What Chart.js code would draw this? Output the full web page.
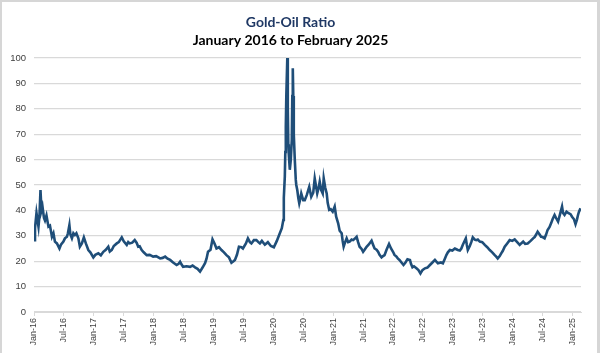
<!DOCTYPE html>
<html>
<head>
<meta charset="utf-8">
<script src="https://cdn.jsdelivr.net/npm/chart.js@4/dist/chart.umd.min.js"></script>
<style>
  html, body { margin: 0; padding: 0; background: #ffffff; }
  #wrap { position: relative; width: 600px; height: 353px; overflow: hidden; }
  #c { position: absolute; left: 0; top: 0; }
  #frame { position: absolute; left: 0; top: 0; width: 600px; height: 360px; box-sizing: border-box;
           border-top: 2px solid #d6d6d6; border-left: 2px solid #d6d6d6; border-right: 3px solid #d6d6d6; pointer-events: none; }
</style>
</head>
<body>
<div id="wrap">
  <canvas id="c" width="600" height="353"></canvas>
  <div id="frame"></div>
</div>
<script>
// Months elapsed since January 2016 (x position of each reading)
const months = [
  0, 0.2, 0.5, 0.9, 1.1, 1.3, 1.5, 1.7, 2.0, 2.2, 2.5, 2.9, 3.2, 3.6, 3.9, 4.2, 4.6, 5.1, 5.4, 5.9,
  6.2, 6.6, 6.8, 7.1, 7.3, 7.6, 7.9, 8.2, 8.5, 8.9, 9.2, 9.6, 10.0, 10.4, 10.9, 11.3, 11.9, 12.3, 12.9, 13.4,
  13.9, 14.4, 14.9, 15.2, 15.6, 16.0, 16.6, 17.0, 17.6, 18.0, 18.6, 18.9, 19.2, 19.7, 20.2, 20.6, 20.9, 21.2, 21.6, 22.0,
  22.6, 23.2, 23.9, 24.5, 25.3, 25.8, 26.3, 26.8, 27.3, 27.9, 28.6, 29.0, 29.3, 29.6, 29.9, 30.6, 31.3, 31.8, 32.3, 32.8,
  33.3, 33.8, 34.3, 34.6, 34.9, 35.4, 35.8, 36.2, 36.6, 37.1, 37.6, 38.1, 38.6, 39.1, 39.6, 40.0, 40.3, 40.7, 41.1, 41.6,
  41.9, 42.5, 42.9, 43.3, 43.6, 44.1, 44.6, 45.0, 45.3, 45.7, 46.3, 46.9, 47.5, 48.1, 48.7, 49.3, 49.7, 50.0, 50.1, 50.3,
  50.4, 50.5, 50.6, 50.8, 50.9, 51.0, 51.1, 51.3, 51.5, 51.7, 51.8, 51.9, 52.0, 52.1, 52.3, 52.5, 52.6, 52.8, 53.0, 53.2,
  53.4, 53.6, 54.0, 54.3, 54.7, 55.2, 55.6, 56.0, 56.3, 56.8, 57.1, 57.3, 57.6, 57.9, 58.1, 58.4, 58.7, 58.9, 59.2, 59.5,
  59.9, 60.3, 60.6, 61.0, 61.3, 61.7, 61.9, 62.1, 62.4, 62.7, 63.0, 63.3, 63.7, 64.0, 64.3, 64.7, 65.0, 65.3, 65.7, 66.0,
  66.3, 66.7, 67.1, 67.7, 68.0, 68.3, 68.7, 69.0, 69.3, 69.7, 70.0, 70.3, 70.7, 71.2, 71.6, 72.0, 72.3, 72.7, 73.0, 73.3,
  73.7, 74.1, 74.5, 74.9, 75.4, 75.6, 75.9, 76.2, 76.7, 77.1, 77.5, 77.9, 78.4, 78.9, 79.4, 79.9, 80.4, 80.7, 81.0, 81.6,
  82.0, 82.4, 82.7, 83.0, 83.4, 83.9, 84.4, 84.7, 85.0, 85.4, 85.7, 86.0, 86.6, 86.8, 87.0, 87.4, 87.7, 88.0, 88.4, 88.7,
  89.0, 89.4, 89.9, 90.4, 90.9, 91.4, 91.9, 92.4, 92.7, 93.0, 93.4, 93.7, 94.0, 94.4, 94.9, 95.4, 95.9, 96.4, 96.9, 97.4,
  97.7, 98.1, 98.5, 99.0, 99.6, 100.1, 100.4, 100.7, 101.0, 101.4, 101.7, 102.0, 102.4, 102.7, 103.0, 103.4, 103.7, 104.0, 104.4, 104.7,
  105.1, 105.5, 105.9, 106.1, 106.4, 106.8, 107.2, 107.6, 107.9, 108.3, 108.6, 108.9, 109.1, 109.3, 109.6
];
// Gold-oil ratio
const ratio = [
  28.3, 33, 39, 33.6, 38, 48, 40, 41.5, 37, 36, 38, 33.6, 34, 29.6, 31, 27.7, 27, 25, 26.5, 27.7,
  29, 29.6, 31, 34.2, 30.5, 29, 31, 30.3, 31, 29, 25.7, 27, 29.4, 27, 24.4, 23.5, 21.5, 22.5, 23.1, 22.3,
  23.7, 24.5, 25.7, 23.8, 24.4, 26, 27, 27.5, 29.4, 27.8, 26.4, 27.5, 27, 27.3, 28.3, 27.2, 25.7, 25.9, 24.4, 23.5,
  22.4, 22.5, 21.8, 22, 21.1, 21.3, 21.8, 21, 20.5, 19.5, 18.5, 19, 19.8, 18.7, 17.8, 18, 17.8, 18.3, 17.6, 17,
  15.9, 17.5, 19.2, 21, 23.7, 24.5, 28.6, 27, 25, 25.5, 24.4, 23.5, 22.4, 21.5, 19.4, 20, 20.5, 22.5, 25.7, 25.5,
  25, 27, 29, 27.5, 27, 28.3, 28.3, 27.5, 27, 28, 26.5, 27.5, 26, 25.5, 28, 31, 33, 36.2, 45, 53.3,
  63, 73, 85, 100, 80, 66, 62, 56, 60, 67.7, 85, 96, 85, 70, 60, 52, 50, 48, 45, 42.8,
  44.5, 46.7, 44, 44, 46, 49.3, 45.4, 47, 52.6, 46.7, 49, 51.3, 48, 46.7, 52.6, 49, 46.7, 43, 40.2, 40.5,
  39.5, 41.5, 37.5, 34.9, 32, 31, 28, 25.7, 27.5, 29, 27.5, 27.7, 28.5, 28.3, 28.8, 29.6, 27.5, 25.7, 24.8, 23.7,
  24.5, 25.7, 26.5, 28.1, 26.5, 25, 24.5, 23.7, 22.5, 21.5, 22, 22.4, 24.5, 26.8, 25, 23.7, 22.5, 21.8, 21, 20.5,
  19.5, 18.5, 19.5, 20.8, 20.5, 19, 17.6, 18, 17.2, 16.5, 15.2, 16.5, 17.2, 17.5, 18.5, 19.5, 20.5, 19.8, 19.2, 19.5,
  19.2, 21, 22.4, 23.5, 24.4, 24.2, 25, 24.7, 24.4, 24.2, 25, 26.5, 29, 26.5, 24.4, 26, 27.5, 29.4, 28.5, 28.3,
  28.5, 27.7, 27.5, 26.4, 25.5, 24.4, 23.5, 22.4, 21.8, 21.1, 22, 23.1, 24, 25.7, 27, 28.3, 28, 28.6, 27.5, 26.4,
  27, 27.7, 26.8, 27, 28, 29, 29.5, 30.5, 31.6, 30.5, 29.6, 29.5, 29, 30.5, 32.3, 33.5, 34.9, 36.5, 38.2, 37,
  35.6, 38.5, 41.5, 39, 38.2, 39.5, 38.9, 38.5, 37.5, 36.5, 34.6, 36.5, 38.2, 39.5, 40.8
];
// Axis tick labels (every six months from Jan-16)
const tickLabels = ["Jan-16","Jul-16","Jan-17","Jul-17","Jan-18","Jul-18","Jan-19","Jul-19","Jan-20","Jul-20",
                    "Jan-21","Jul-21","Jan-22","Jul-22","Jan-23","Jul-23","Jan-24","Jul-24","Jan-25"];
const yTicks = [0,10,20,30,40,50,60,70,80,90,100];
const titleText = "Gold-Oil Ratio";
const subtitleText = "January 2016 to February 2025";

const points = months.map((m, i) => ({ x: m, y: ratio[i] }));

new Chart(document.getElementById('c'), {
  type: 'line',
  data: {
    datasets: [{
      data: points,
      borderColor: '#1f4e79',
      borderWidth: 2.6,
      pointRadius: 0,
      tension: 0,
      fill: false
    }]
  },
  options: {
    responsive: false,
    animation: false,
    devicePixelRatio: 1,
    layout: { padding: { left: 0, right: 19, top: 0, bottom: 0 } },
    plugins: {
      legend: { display: false },
      tooltip: { enabled: false },
      title: {
        display: true,
        text: titleText,
        color: '#1f3864',
        font: { family: 'Lato', size: 14, weight: 'bold' },
        padding: { top: 14, bottom: 1 }
      },
      subtitle: {
        display: true,
        text: subtitleText,
        color: '#000000',
        font: { family: 'Lato', size: 14, weight: 'bold' },
        padding: { top: 0, bottom: 9.4 }
      }
    },
    scales: {
      x: {
        type: 'linear',
        min: 0,
        max: 109.7,
        afterFit: (s) => { s.height = 41; },
        afterBuildTicks: (s) => { s.ticks = tickLabels.map((_, i) => ({ value: i * 6 })); },
        ticks: {
          autoSkip: false,
          minRotation: 90,
          maxRotation: 90,
          padding: 2,
          color: '#404040',
          font: { family: 'Liberation Sans', size: 9 },
          callback: (v) => tickLabels[Math.round(v / 6)]
        },
        grid: { drawOnChartArea: false, drawTicks: true, tickLength: 4, color: '#d9d9d9', lineWidth: 1 },
        border: { display: true, color: '#d9d9d9', width: 1 }
      },
      y: {
        min: 0,
        max: 100,
        afterFit: (s) => { s.width = 34; },
        afterBuildTicks: (s) => { s.ticks = yTicks.map(v => ({ value: v })); },
        ticks: {
          padding: 8,
          color: '#404040',
          font: { family: 'Liberation Sans', size: 9.5 }
        },
        grid: { drawTicks: false, color: '#d9d9d9', lineWidth: 1.3 },
        border: { display: false }
      }
    }
  }
});
</script>
</body>
</html>
